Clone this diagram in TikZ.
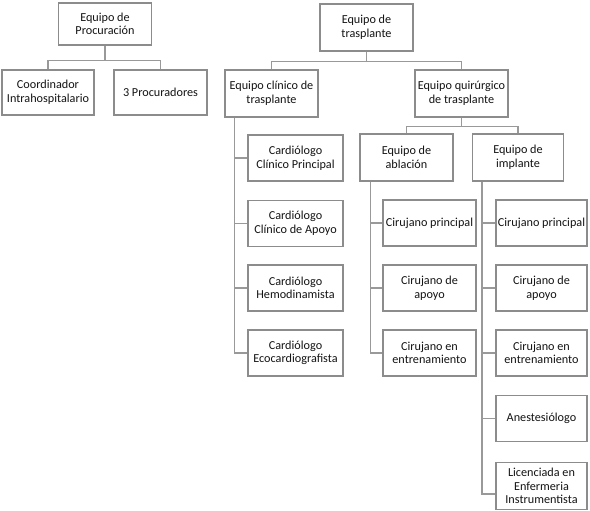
\documentclass[tikz,border=0pt]{standalone}
\usepackage{fontspec}
\setmainfont{Carlito}
\definecolor{BoxClr}{rgb}{0.55,0.55,0.55}
\definecolor{LineClr}{rgb}{0.6,0.6,0.6}
\definecolor{TextClr}{rgb}{0.08,0.08,0.08}

\begin{document}
\begin{tikzpicture}[x=1pt,y=-1pt,
  box/.style={draw=BoxClr,line width=1.2pt,fill=white,align=center,text=TextClr,
    font=\fontsize{12.2}{13.6}\selectfont,inner sep=0pt,minimum width=93pt,minimum height=46pt},
  link/.style={draw=LineClr,line width=1.2pt}]
\useasboundingbox (0,0) rectangle (590,511);

% procuracion
\node[box,minimum height=42pt] (proc) at (105,24) {Equipo de\\Procuración};
\node[box,minimum width=92pt,minimum height=45pt] (coord) at (48,92.5) {Coordinador\\Intrahospitalario};
\node[box,minimum height=45pt] (procs) at (160.5,92.5) {3 Procuradores};

% trasplante
\node[box,minimum height=47pt] (trasp) at (366.5,27.5) {Equipo de\\trasplante};
\node[box,minimum height=47pt] (clin) at (271.5,93.5) {Equipo clínico de\\trasplante};
\node[box,minimum height=47pt] (quir) at (461.5,93.5) {Equipo quirúrgico\\de trasplante};
\node[box,minimum height=47pt] (abl) at (406.5,157.5) {Equipo de\\ablación};
\node[box,minimum width=91pt,minimum height=47pt] (impl) at (518,157.5) {Equipo de\\implante};

\node[box,minimum width=95pt] (card1) at (295.5,158) {Cardiólogo\\Clínico Principal};
\node[box,minimum width=95pt] (card2) at (295.5,223.5) {Cardiólogo\\Clínico de Apoyo};
\node[box,minimum width=95pt] (card3) at (295.5,288) {Cardiólogo\\Hemodinamista};
\node[box,minimum width=95pt] (card4) at (295.5,353) {Cardiólogo\\Ecocardiografista};

\node[box] (cabl1) at (429.5,223) {Cirujano principal};
\node[box] (cabl2) at (429.5,288) {Cirujano de\\apoyo};
\node[box] (cabl3) at (429.5,353) {Cirujano en\\entrenamiento};

\node[box,minimum width=91pt] (cimp1) at (541.5,223) {Cirujano principal};
\node[box,minimum width=91pt] (cimp2) at (541.5,288) {Cirujano de\\apoyo};
\node[box,minimum width=91pt] (cimp3) at (541.5,353) {Cirujano en\\entrenamiento};
\node[box,minimum width=91pt] (anest) at (541.5,418.5) {Anestesiólogo};
\node[box,minimum width=91pt,minimum height=47pt] (lic) at (541.5,486) {Licenciada en\\Enfermeria\\Instrumentista};

\draw[link] (proc.south) -- ++(0,15) -| (coord.north);
\draw[link] (proc.south) ++(0,15) -| (procs.north);

\draw[link] (trasp.south) -- ++(0,10) -| (clin.north);
\draw[link] (trasp.south) ++(0,10) -| (quir.north);

\draw[link] (quir.south) -- ++(0,9) -| (abl.north);
\draw[link] (quir.south) ++(0,9) -| (impl.north);

\coordinate (clinbar) at ([xshift=10pt]clin.south west);
\coordinate (ablbar) at ([xshift=11pt]abl.south west);
\coordinate (implbar) at ([xshift=10pt]impl.south west);

\draw[link] (clinbar) |- (card4.west);
\foreach \n in {card1,card2,card3}
  \draw[link] (clinbar |- \n.west) -- (\n.west);

\draw[link] (ablbar) |- (cabl3.west);
\foreach \n in {cabl1,cabl2}
  \draw[link] (ablbar |- \n.west) -- (\n.west);

\draw[link] (implbar) |- ([yshift=-8pt]lic.west);
\foreach \n in {cimp1,cimp2,cimp3,anest}
  \draw[link] (implbar |- \n.west) -- (\n.west);

\end{tikzpicture}
\end{document}
